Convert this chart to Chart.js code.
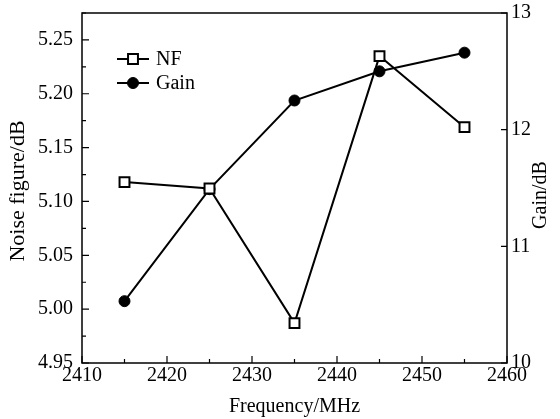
<!DOCTYPE html>
<html>
<head>
<meta charset="utf-8">
<script src="https://cdn.jsdelivr.net/npm/chart.js@4/dist/chart.umd.min.js"></script>
<style>
    html, body { margin: 0; padding: 0; background: #fff; }
    #wrap { width: 560px; height: 419px; }
</style>
</head>
<body>
<div id="wrap"><canvas id="chart" width="560" height="419"></canvas></div>
<script>
const frequencies = [2415, 2425, 2435, 2445, 2455];
const noiseFigure = [5.118, 5.112, 4.987, 5.235, 5.169];
const gain = [10.53, 11.49, 12.25, 12.50, 12.66];
const nfTicks = [4.95, 5.0, 5.05, 5.1, 5.15, 5.2, 5.25];

const serif = '"Liberation Serif", "Times New Roman", serif';

/**
 * Inward major/minor ticks plus the frame around the plot area
 */
const frameTicks = {
    id: 'frameTicks',
    afterDraw(chart) {
        const { ctx, chartArea: a, scales } = chart;
        ctx.save();
        ctx.strokeStyle = '#000';
        ctx.lineWidth = 1.5;
        ctx.strokeRect(a.left, a.top, a.right - a.left, a.bottom - a.top);

        ctx.lineWidth = 1.2;
        ctx.beginPath();
        for (let v = 2410; v <= 2460; v += 5) {
            const px = scales.x.getPixelForValue(v);
            const len = v % 10 === 0 ? 7 : 4;
            ctx.moveTo(px, a.bottom);
            ctx.lineTo(px, a.bottom - len);
        }
        for (let i = 0; i <= 13; i++) {
            const v = 4.95 + i * 0.025;
            if (v > scales.y.max) break;
            const py = scales.y.getPixelForValue(v);
            const len = i % 2 === 0 ? 7 : 4;
            ctx.moveTo(a.left, py);
            ctx.lineTo(a.left + len, py);
        }
        for (let v = 10; v <= 13; v += 1) {
            const py = scales.y1.getPixelForValue(v);
            ctx.moveTo(a.right, py);
            ctx.lineTo(a.right - 6, py);
        }
        ctx.stroke();
        ctx.restore();
    }
};

/**
 * Rotated axis titles, both reading bottom to top
 */
const sideTitles = {
    id: 'sideTitles',
    afterDraw(chart) {
        const { ctx } = chart;
        ctx.save();
        ctx.fillStyle = '#000';
        ctx.textAlign = 'center';
        ctx.textBaseline = 'middle';
        ctx.font = '22px ' + serif;
        ctx.translate(18, 191);
        ctx.rotate(-Math.PI / 2);
        ctx.fillText('Noise figure/dB', 0, 0);
        ctx.restore();

        ctx.save();
        ctx.fillStyle = '#000';
        ctx.textAlign = 'center';
        ctx.textBaseline = 'middle';
        ctx.font = '20px ' + serif;
        ctx.translate(541, 195);
        ctx.rotate(-Math.PI / 2);
        ctx.fillText('Gain/dB', 0, 0);
        ctx.restore();
    }
};

/**
 * Legend drawn in the top left corner of the plot
 */
const cornerLegend = {
    id: 'cornerLegend',
    afterDraw(chart) {
        const { ctx } = chart;
        const items = [
            { text: 'NF', y: 59, ds: chart.data.datasets[0] },
            { text: 'Gain', y: 83, ds: chart.data.datasets[1] }
        ];
        ctx.save();
        ctx.font = '20px ' + serif;
        ctx.textBaseline = 'middle';
        items.forEach(item => {
            ctx.strokeStyle = '#000';
            ctx.lineWidth = 2;
            ctx.beginPath();
            ctx.moveTo(117, item.y);
            ctx.lineTo(149, item.y);
            ctx.stroke();
            ctx.fillStyle = item.ds.pointBackgroundColor;
            ctx.lineWidth = item.ds.pointBorderWidth;
            ctx.beginPath();
            if (item.ds.pointStyle === 'rect') {
                const s = Math.SQRT1_2 * item.ds.pointRadius;
                ctx.rect(133 - s, item.y - s, 2 * s, 2 * s);
            } else {
                ctx.arc(133, item.y, item.ds.pointRadius, 0, Math.PI * 2);
            }
            ctx.fill();
            ctx.stroke();
            ctx.fillStyle = '#000';
            ctx.fillText(item.text, 156, item.y + 1);
        });
        ctx.restore();
    }
};

function noOverflow(scale) {
    scale.paddingTop = 0;
    scale.paddingBottom = 0;
    scale.paddingLeft = 0;
    scale.paddingRight = 0;
}

const ctx = document.getElementById('chart');
new Chart(ctx, {
    type: 'line',
    data: {
        datasets: [{
            label: 'NF',
            data: frequencies.map((f, i) => ({ x: f, y: noiseFigure[i] })),
            yAxisID: 'y',
            borderColor: '#000',
            borderWidth: 2,
            pointStyle: 'rect',
            pointRadius: 7,
            pointBorderWidth: 2,
            pointBackgroundColor: '#fff',
            pointBorderColor: '#000',
            tension: 0
        }, {
            label: 'Gain',
            data: frequencies.map((f, i) => ({ x: f, y: gain[i] })),
            yAxisID: 'y1',
            borderColor: '#000',
            borderWidth: 2,
            pointStyle: 'circle',
            pointRadius: 5.5,
            pointBorderWidth: 1,
            pointBackgroundColor: '#000',
            pointBorderColor: '#000',
            tension: 0
        }]
    },
    options: {
        responsive: false,
        animation: false,
        layout: { padding: { top: 13, left: 0, right: 0, bottom: 0 } },
        plugins: {
            legend: { display: false },
            tooltip: { enabled: false }
        },
        scales: {
            x: {
                type: 'linear',
                min: 2410,
                max: 2460,
                grid: { display: false, drawTicks: false },
                border: { display: false },
                ticks: {
                    stepSize: 10,
                    padding: 1,
                    color: '#000',
                    font: { family: serif, size: 20 },
                    callback: v => String(v)
                },
                title: {
                    display: true,
                    text: 'Frequency/MHz',
                    color: '#000',
                    font: { family: serif, size: 20 },
                    padding: { top: 2, bottom: 0 }
                },
                afterFit(scale) {
                    noOverflow(scale);
                    scale.height = 56;
                }
            },
            y: {
                position: 'left',
                min: 4.95,
                max: 5.275,
                grid: { display: false, drawTicks: false },
                border: { display: false },
                afterBuildTicks(scale) {
                    scale.ticks = nfTicks.map(v => ({ value: v }));
                },
                ticks: {
                    padding: 9,
                    color: '#000',
                    font: { family: serif, size: 20 },
                    callback: v => v.toFixed(2)
                },
                afterFit(scale) {
                    noOverflow(scale);
                    scale.width = 82;
                }
            },
            y1: {
                position: 'right',
                min: 10,
                max: 13,
                grid: { display: false, drawTicks: false },
                border: { display: false },
                ticks: {
                    stepSize: 1,
                    padding: 4,
                    color: '#000',
                    font: { family: serif, size: 20 }
                },
                afterFit(scale) {
                    noOverflow(scale);
                    scale.width = 53;
                }
            }
        }
    },
    plugins: [frameTicks, sideTitles, cornerLegend]
});
</script>
</body>
</html>
